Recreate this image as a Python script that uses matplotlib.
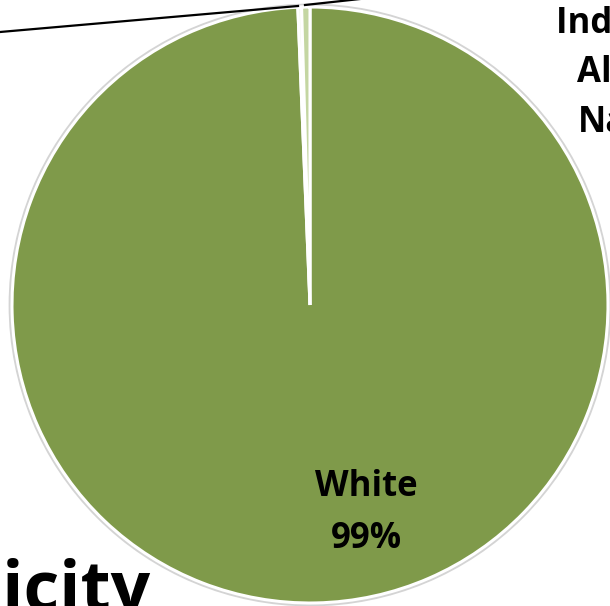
import matplotlib.pyplot as plt
from matplotlib.patches import Circle

# data
categories = ['White', 'Other', 'American Indian or Alaska Native']
shares = [99.35, 0.2, 0.45]
colors = ['#7F9A4A', '#EEF3E4', '#C4D6A2']

white_label = 'White\n99%'
aian_label = 'American\nIndian or\nAlaska\nNative'
title = 'Ethnicity'

plt.rcParams['font.family'] = ['Open Sans', 'DejaVu Sans']

fig = plt.figure(figsize=(6.10, 6.06), dpi=100)
ax = fig.add_axes([0, 0, 1, 1])
# axes in pixel units centred on the pie
ax.set_xlim(-310, 300)
ax.set_ylim(-301, 305)
ax.set_aspect('equal')
ax.axis('off')

# soft outline around the pie
ax.add_patch(Circle((0, 0), 300, facecolor='none', edgecolor='#d4d4d4', lw=2, zorder=0))

ax.pie(shares, colors=colors, radius=298, center=(0, 0),
       startangle=90, counterclock=False,
       wedgeprops=dict(edgecolor='white', linewidth=2.2))
ax.set_xlim(-310, 300)
ax.set_ylim(-301, 305)

# leader lines of the small slices
ax.plot([-310, -12], [273, 299], color='black', lw=1.6, clip_on=False, zorder=5)
ax.plot([-5, 50], [300, 306], color='black', lw=1.6, clip_on=False, zorder=5)

ax.text(56, -243, white_label, ha='center', va='baseline', fontsize=25,
        fontweight='bold', linespacing=1.6, color='black')

ax.text(325, 173, aian_label, ha='center', va='baseline', fontsize=25,
        fontweight='bold', linespacing=1.5, color='black', clip_on=False)

ax.text(-159, -306, title, ha='right', va='baseline', fontsize=50,
        fontweight='bold', color='black', clip_on=False)

fig.savefig('out.png', dpi=100)
